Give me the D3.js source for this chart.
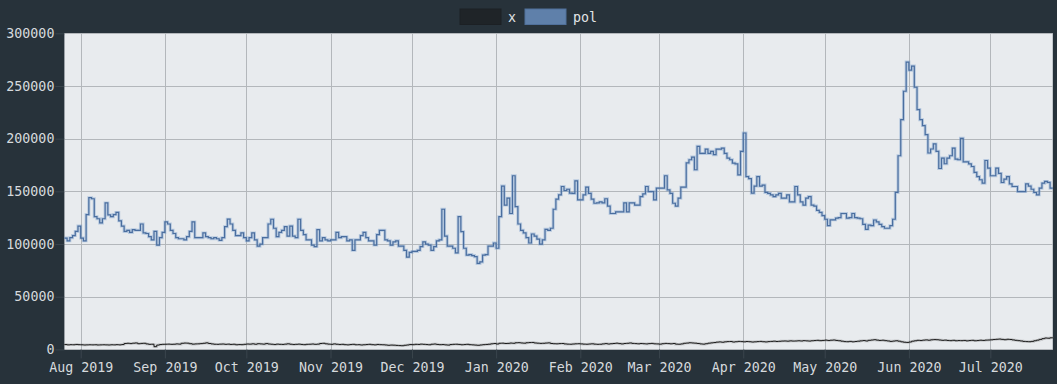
<!DOCTYPE html>
<html>
<head>
<meta charset="utf-8">
<script src="https://cdn.jsdelivr.net/npm/d3@7"></script>
<style>
  html, body { margin: 0; padding: 0; background: #27323a; }
  svg { display: block; }
  text { font-family: "DejaVu Sans Mono", monospace; }
</style>
</head>
<body>
<svg id="chart" width="1057" height="384"></svg>
<script>
// ---- data ----
const startDate = "2019-07-26";
const seriesNames = ["x", "pol"];
const seriesColors = ["#1f2428", "#5f80aa"];
const yTicks = [0, 50000, 100000, 150000, 200000, 250000, 300000];

// daily values (thousands), pol
const polK = [
  105.7,103,106,108,112,117,105.7,103,128,144,
  143,126,124,120,124,139,127.6,126,128,130,
  122,117,112,113,111,113.6,113,113,119,110.5,
  110,107,104,112,99,106,111,121,119,113,
  110,106,105,105,104,107,112,121,106,106,
  106,110.5,107,106,105,106,105,103.5,106,116.5,
  123.6,119,113,108,108,110.5,106,103,106,110.5,
  104,98,100,106,106,119,123.5,115,107,111,
  113,116.5,107.6,117,107.6,106,123.5,113,109,104,
  104,99,97.6,113.6,103,106,104,103,104,104,
  111,106,107,107,103,104,94,104,104,108,
  111,106,103,103,99,109,113,113,104,103,
  99,102,103,98,98,94,87.6,92,93,93,
  94,97.6,102,100,99,94,97.6,103,104,133,
  107.6,98,98,96,91.7,126,111.7,96,89.5,90,
  89,88,81.6,83,89.5,90,98,98,101,96,
  126,155,137,143.5,129,164.8,135.5,119,113,110.5,
  106,101,109.5,107.6,104.7,100,104,114,113,115,
  133,142.6,146.7,154.6,150.8,152,148.3,148,160,142,
  142,146.7,154,148,142.6,138.7,139,140,139,143,
  136,129,129,130.6,130.6,130.6,139,130.6,139,139,
  137,137,145,147.6,154.6,149.8,149.8,142,153,153,
  153,164.8,151.4,148,138.7,136,143.5,154,154,177,
  180,182.5,170.5,192.7,186,186,190,186,188,184.8,
  190,190,191,186,181.6,180,176.8,176,165.7,187.9,
  205.4,164,162,148.3,155,164,155,156,149,148,
  146.6,145,146.6,148,143.5,143.5,146.6,140,140,154.6,
  146.6,140,137,143.5,145,137,136,132,130,127,
  123.5,117.5,123,123,124.5,125,129,129,124.5,125,
  129,125,124.5,124,118.7,114,118,117.4,122.8,121,
  118.7,116.5,115,115,117.4,123.5,149,183.8,218,245,
  272.7,265,268.9,248.8,227.6,218,212.4,203.8,186.4,190.2,
  195,188,171.7,181.6,176.2,181.6,183.8,191,180.6,180,
  200.3,178,178,176,173.6,168,164,161,157.8,179.3,
  172,164.8,164.8,172,167,158.4,161.6,164,157,154.6,
  154.6,149.8,149.8,149.8,157,155,152,148.9,146.7,153,
  157.8,159.4,158.5,153,153
];

// daily values (thousands), x
const xK = [
  4.6,4.3,4.5,4.4,4.7,4.5,4.4,4.2,4.3,4.4,
  4.3,4.4,4.2,4.3,4.4,4.3,4.2,4.4,4.3,4.5,
  4.3,4.6,5.6,5.8,5.5,5.9,6.1,5.4,5.7,5.8,
  5.2,4.8,4.9,2.6,4.1,4.6,4.8,4.9,5.0,4.8,
  4.9,5.2,5.0,5.8,6.0,5.9,5.4,5.0,5.2,5.3,
  5.5,5.8,6.2,5.6,5.2,4.9,4.8,5.0,5.1,4.8,
  5.0,4.7,4.9,4.4,4.6,4.5,4.8,5.1,5.0,5.3,
  4.9,5.4,5.2,5.0,5.5,5.1,4.9,4.6,5.0,4.8,
  4.7,5.0,5.3,4.9,4.6,4.8,5.0,4.7,4.5,4.8,
  4.9,5.1,4.8,5.0,5.6,5.8,5.3,5.0,4.8,5.2,
  4.9,4.6,4.8,4.5,4.3,4.6,4.8,4.4,4.5,4.2,
  4.4,4.6,4.8,4.5,4.3,4.7,4.5,4.4,4.2,3.9,
  4.1,4.0,3.8,3.6,3.5,3.9,4.2,4.6,4.5,4.8,
  4.7,5.0,4.8,4.6,4.4,4.9,5.1,4.7,4.5,4.6,
  4.3,4.1,4.6,4.8,4.9,4.7,4.4,4.6,4.8,4.5,
  4.3,4.1,3.9,4.2,4.5,4.7,4.9,5.3,5.6,5.1,
  5.8,5.9,5.6,5.7,6.0,5.8,6.3,6.4,6.1,5.9,
  6.3,6.5,6.6,6.1,5.9,5.7,5.8,6.0,6.2,5.6,
  5.4,5.3,5.5,5.6,5.2,5.0,4.9,5.1,5.3,5.4,
  5.2,5.0,4.9,5.1,5.3,5.0,4.8,4.9,5.2,5.5,
  5.1,5.4,5.6,5.9,5.5,5.2,5.6,5.8,6.1,5.7,
  5.5,5.3,5.6,5.4,5.2,5.5,5.7,5.3,5.2,5.0,
  5.4,5.7,5.5,5.3,5.6,5.0,4.9,5.2,5.8,6.0,
  6.3,6.1,5.9,5.6,5.2,5.0,5.4,5.9,6.2,6.5,
  6.9,7.1,6.8,7.2,7.4,7.5,7.0,7.3,7.6,7.4,
  7.2,7.5,7.3,7.0,7.2,7.4,7.6,7.3,7.1,7.4,
  7.6,7.8,7.5,7.7,7.9,8.0,7.8,8.1,7.9,8.0,
  8.2,8.0,8.3,8.1,7.9,8.2,8.4,8.6,8.3,8.5,
  8.8,8.4,8.7,8.9,8.5,8.2,7.8,7.4,7.3,7.6,
  7.2,7.5,7.8,8.1,8.4,8.0,8.6,8.9,9.2,8.8,
  8.5,8.7,8.3,8.0,7.6,7.9,8.2,7.8,7.2,6.8,
  6.6,7.0,7.8,8.2,8.6,8.4,8.8,9.0,8.7,9.1,
  9.3,9.2,8.9,8.6,8.8,8.5,8.3,8.6,8.2,8.4,
  8.3,8.5,8.1,8.4,8.6,8.2,8.4,8.7,8.5,8.8,
  8.9,9.1,9.4,9.6,9.8,9.5,9.2,9.6,9.4,9.0,
  8.6,8.3,8.0,7.6,7.4,7.3,7.6,8.2,8.8,9.5,
  10.2,10.8,10.6,11.0,10.9
];

// ---- build ----
const parse = d3.utcParse("%Y-%m-%d");
const t0 = parse(startDate);
const dates = polK.map((_, i) => d3.utcDay.offset(t0, i));
const polData = polK.map((v, i) => ({ date: dates[i], value: v * 1000 }));
const xData = xK.map((v, i) => ({ date: dates[i], value: v * 1000 }));

const svg = d3.select("#chart");
const L = 64.4, R = 1052.8, T = 33.3, B = 349.4;

const x = d3.scaleUtc().domain([dates[0], dates[dates.length - 1]]).range([L, R]);
const y = d3.scaleLinear().domain([0, 300000]).range([B, T]);

// plot background
svg.append("rect").attr("x", L).attr("y", T).attr("width", R - L).attr("height", B - T)
  .attr("fill", "#e8ebee");

const monthTicks = d3.utcMonth.range(d3.utcMonth.ceil(dates[0]), dates[dates.length - 1]);

// grid
const grid = svg.append("g");
grid.selectAll("line.h").data(yTicks).join("line")
  .attr("x1", L).attr("x2", R)
  .attr("y1", d => Math.round(y(d)) + 0.5).attr("y2", d => Math.round(y(d)) + 0.5)
  .attr("stroke", "#b3b7bb").attr("stroke-width", 1);
grid.selectAll("line.v").data(monthTicks).join("line")
  .attr("x1", d => Math.round(x(d)) + 0.5).attr("x2", d => Math.round(x(d)) + 0.5)
  .attr("y1", T).attr("y2", B)
  .attr("stroke", "#b3b7bb").attr("stroke-width", 1);

// axes
const yAxis = d3.axisLeft(y).tickValues(yTicks).tickFormat(d3.format("d")).tickSize(9).tickPadding(1);
const gy = svg.append("g").attr("transform", `translate(${L},0)`).call(yAxis);
const xAxis = d3.axisBottom(x).tickValues(monthTicks).tickFormat(d3.utcFormat("%b %Y")).tickSize(9).tickPadding(3);
const gx = svg.append("g").attr("transform", `translate(0,${B})`).call(xAxis);
[gy, gx].forEach(g => {
  g.select(".domain").remove();
  g.selectAll(".tick line").attr("stroke", "#3a454d");
  g.selectAll(".tick text").attr("fill", "#d6dadd").attr("font-size", "13.3px")
    .attr("font-family", "DejaVu Sans Mono, monospace");
});
gx.selectAll(".tick text").attr("dy", "0.8em");

// lines
const line = d3.line().x(d => x(d.date)).y(d => y(d.value)).curve(d3.curveStepAfter);
const plot = svg.append("g");
plot.append("path").datum(polData).attr("d", line)
  .attr("fill", "none").attr("stroke", "rgba(110,150,200,0.4)").attr("stroke-width", 3);
plot.append("path").datum(polData).attr("d", line)
  .attr("fill", "none").attr("stroke", "#4a6e9f").attr("stroke-width", 1.2);
plot.append("path").datum(xData).attr("d", line)
  .attr("fill", "none").attr("stroke", "rgba(90,90,90,0.25)").attr("stroke-width", 2.5);
plot.append("path").datum(xData).attr("d", line)
  .attr("fill", "none").attr("stroke", "#1b1b1b").attr("stroke-width", 1);

// legend
const legend = svg.append("g");
const legendX = [460, 525];
seriesNames.forEach((name, i) => {
  legend.append("rect").attr("x", legendX[i]).attr("y", 9).attr("width", 41).attr("height", 15.5)
    .attr("fill", seriesColors[i])
    .attr("stroke", i === 1 ? "#50709a" : "#1c2024").attr("stroke-width", 1);
  legend.append("text").attr("x", legendX[i] + 48).attr("y", 17).attr("dy", "0.35em")
    .attr("fill", "#e2e5e7").attr("font-size", "13.3px").text(name);
});
</script>
</body>
</html>
